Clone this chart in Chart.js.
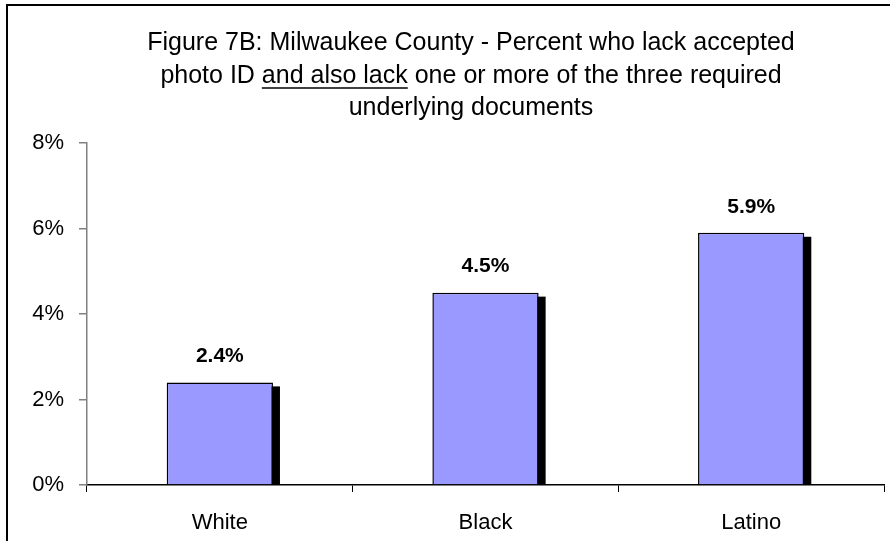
<!DOCTYPE html>
<html>
<head>
<meta charset="utf-8">
<script src="https://cdn.jsdelivr.net/npm/chart.js@4.4.1/dist/chart.umd.min.js"></script>
<style>
  html, body { margin: 0; padding: 0; background: #fff; }
  #wrap { position: absolute; left: 0; top: 0; width: 890px; height: 541px; }
</style>
</head>
<body>
<div id="wrap"><canvas id="c" width="890" height="541"></canvas></div>
<script>
const categories = ["White", "Black", "Latino"];
const values = [2.4, 4.5, 5.9];
const valueLabels = ["2.4%", "4.5%", "5.9%"];
const yTicks = [0, 2, 4, 6, 8];
const titleLines = [
  ["Figure 7B: Milwaukee County - Percent who lack accepted"],
  ["photo ID ", "and also lack", " one or more of the three required"],
  ["underlying documents"]
];

const FONT = "'Liberation Sans', Arial, sans-serif";

const framePlugin = {
  id: 'frame',
  beforeDraw(chart) {
    const ctx = chart.ctx;
    ctx.save();
    ctx.strokeStyle = '#000';
    ctx.lineWidth = 2;
    ctx.strokeRect(7, 5, 900, 600);
    ctx.restore();
  }
};

const titlePlugin = {
  id: 'customTitle',
  afterDraw(chart) {
    const ctx = chart.ctx;
    ctx.save();
    ctx.font = "25px " + FONT;
    ctx.fillStyle = '#000';
    ctx.textBaseline = 'alphabetic';
    const cx = 471;
    const ys = [50, 83, 115];
    titleLines.forEach((parts, i) => {
      const full = parts.join('');
      const w = ctx.measureText(full).width;
      let x = cx - w / 2;
      parts.forEach((p, j) => {
        ctx.textAlign = 'left';
        ctx.fillText(p, x, ys[i]);
        const pw = ctx.measureText(p).width;
        if (i === 1 && j === 1) {
          ctx.beginPath();
          ctx.strokeStyle = '#000';
          ctx.lineWidth = 1.5;
          ctx.moveTo(x, ys[i] + 5);
          ctx.lineTo(x + pw, ys[i] + 5);
          ctx.stroke();
        }
        x += pw;
      });
    });
    ctx.restore();
  }
};

const shadowPlugin = {
  id: 'barShadow',
  beforeDatasetDraw(chart, args) {
    const ctx = chart.ctx;
    const area = chart.chartArea;
    ctx.save();
    ctx.beginPath();
    ctx.rect(area.left, area.top, area.right - area.left, area.bottom - area.top);
    ctx.clip();
    ctx.fillStyle = '#000';
    args.meta.data.forEach(bar => {
      const p = bar.getProps(['x', 'y', 'base', 'width'], true);
      ctx.fillRect(p.x - p.width / 2 + 7, p.y + 4, p.width, p.base - p.y - 4);
    });
    ctx.restore();
  }
};

const valueLabelPlugin = {
  id: 'valueLabels',
  afterDatasetsDraw(chart) {
    const ctx = chart.ctx;
    const meta = chart.getDatasetMeta(0);
    ctx.save();
    ctx.font = "bold 21px " + FONT;
    ctx.fillStyle = '#000';
    ctx.textAlign = 'center';
    ctx.textBaseline = 'middle';
    meta.data.forEach((bar, i) => {
      ctx.fillText(valueLabels[i], bar.x, bar.y - 26);
    });
    ctx.restore();
  }
};

new Chart(document.getElementById('c'), {
  type: 'bar',
  data: {
    labels: categories,
    datasets: [{
      data: values,
      backgroundColor: '#9999FF',
      borderColor: '#000',
      borderWidth: 1.5,
      borderSkipped: 'bottom',
      categoryPercentage: 1.0,
      barPercentage: 0.4
    }]
  },
  options: {
    responsive: false,
    animation: false,
    devicePixelRatio: 1,
    layout: { padding: { top: 143, right: 6, left: 0, bottom: 0 } },
    plugins: {
      legend: { display: false },
      title: { display: false },
      tooltip: { enabled: false }
    },
    scales: {
      x: {
        offset: true,
        afterFit(scale) { scale.height = 56; },
        grid: {
          offset: true,
          drawOnChartArea: false,
          drawTicks: true,
          tickLength: 7,
          color: '#000',
          lineWidth: 1
        },
        border: { color: '#000', width: 1.5 },
        ticks: {
          color: '#000',
          font: { family: FONT, size: 22 },
          padding: 18,
          maxRotation: 0
        }
      },
      y: {
        min: 0,
        max: 8,
        afterBuildTicks(scale) { scale.ticks = yTicks.map(v => ({ value: v })); },
        afterFit(scale) { scale.width = 87; },
        grid: {
          drawOnChartArea: false,
          drawTicks: true,
          tickLength: 8,
          color: '#808080',
          lineWidth: 1.5
        },
        border: { color: '#808080', width: 1.5 },
        ticks: {
          color: '#000',
          font: { family: FONT, size: 22 },
          padding: 15,
          callback: v => v + '%'
        }
      }
    }
  },
  plugins: [framePlugin, shadowPlugin, valueLabelPlugin, titlePlugin]
});
</script>
</body>
</html>
